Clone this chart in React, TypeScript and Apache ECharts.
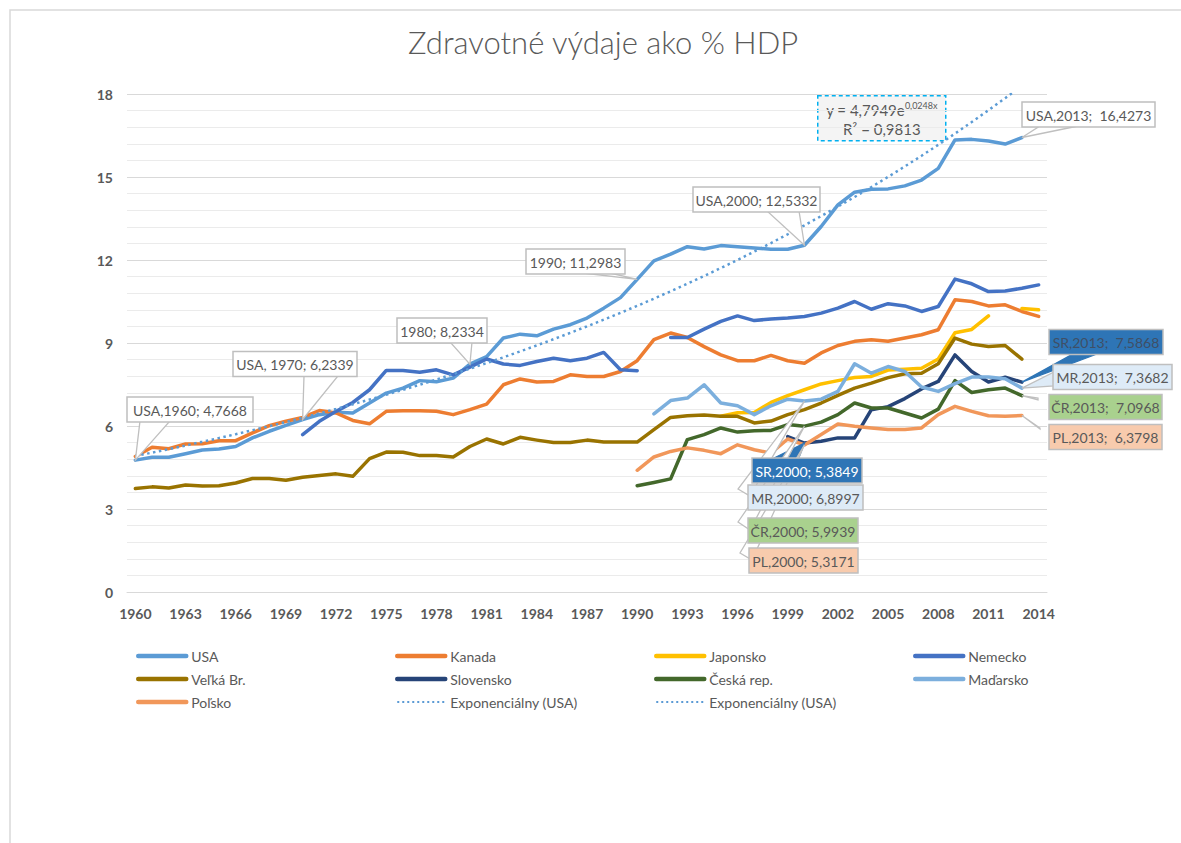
import React, { useEffect, useRef } from "react";
import * as echarts from "echarts";

const FONT = 'Lato, "Open Sans", "Noto Sans", sans-serif';
const GREY = "#595959";

const YEARS: string[] = [];
for (let y = 1960; y <= 2014; y++) YEARS.push(String(y));

const gap = (n: number) => new Array(n).fill(null);

const USA = [
  4.7668, 4.87, 4.87, 5.0, 5.13, 5.17, 5.26, 5.57, 5.81, 6.02,
  6.2339, 6.41, 6.5, 6.47, 6.83, 7.19, 7.37, 7.64, 7.6, 7.73,
  8.2334, 8.51, 9.18, 9.32, 9.26, 9.5, 9.66, 9.9, 10.26, 10.64,
  11.2983, 11.97, 12.21, 12.48, 12.4, 12.52, 12.48, 12.43, 12.39, 12.39,
  12.5332, 13.21, 13.99, 14.45, 14.56, 14.57, 14.68, 14.89, 15.31, 16.34,
  16.36, 16.3, 16.19, 16.4273, null,
];
const KANADA = [
  4.9, 5.23, 5.18, 5.35, 5.36, 5.47, 5.47, 5.75, 6.01, 6.17,
  6.31, 6.56, 6.47, 6.2, 6.08, 6.53, 6.55, 6.55, 6.53, 6.41,
  6.59, 6.79, 7.49, 7.7, 7.59, 7.61, 7.85, 7.79, 7.79, 7.97,
  8.36, 9.12, 9.36, 9.2, 8.87, 8.57, 8.36, 8.36, 8.55, 8.36,
  8.27, 8.64, 8.91, 9.06, 9.12, 9.06, 9.18, 9.3, 9.48, 10.56,
  10.5, 10.34, 10.38, 10.14, 9.96,
];
const JAPONSKO = [
  ...gap(35),
  6.35, 6.48, 6.49, 6.85, 7.1,
  7.31, 7.52, 7.64, 7.75, 7.79, 8.02, 8.05, 8.09, 8.42, 9.37,
  9.49, 9.98, null, 10.25, 10.2,
];
const NEMECKO = [
  ...gap(10),
  5.69, 6.17, 6.53, 6.85, 7.31, 8.01, 8.01, 7.94, 8.03, 7.85,
  8.13, 8.42, 8.24, 8.19, 8.33, 8.45, 8.36, 8.45, 8.66, 8.03,
  8.0, null, 9.2, 9.2, 9.5, 9.78, 9.98, 9.81, 9.87, 9.9,
  9.96, 10.08, 10.26, 10.5, 10.22, 10.42, 10.34, 10.14, 10.32, 11.31,
  11.14, 10.86, 10.88, 10.98, 11.1,
];
const VELKA_BR = [
  3.74, 3.8, 3.76, 3.87, 3.83, 3.84, 3.94, 4.1, 4.1, 4.04,
  4.15, 4.21, 4.27, 4.18, 4.82, 5.06, 5.05, 4.93, 4.93, 4.88,
  5.26, 5.53, 5.35, 5.59, 5.49, 5.4, 5.4, 5.49, 5.42, 5.42,
  5.42, 5.87, 6.31, 6.37, 6.4, 6.35, 6.35, 6.11, 6.18, 6.41,
  6.59, 6.83, 7.11, 7.37, 7.55, 7.75, 7.89, 7.91, 8.25, 9.18,
  8.96, 8.87, 8.91, 8.42, null,
];
const SLOVENSKO = [
  ...gap(39),
  5.62,
  5.3849, 5.45, 5.57, 5.57, 6.59, 6.7, 6.99, 7.34, 7.61, 8.57,
  7.97, 7.59, 7.76, 7.5868, null,
];
const CESKA = [
  ...gap(30),
  3.84, 3.96, 4.09, 5.51, 5.69, 5.93, 5.78, 5.83, 5.84, 6.05,
  5.9939, 6.14, 6.41, 6.83, 6.65, 6.65, 6.47, 6.29, 6.61, 7.64,
  7.21, 7.31, 7.37, 7.0968, null,
];
const MADARSKO = [
  ...gap(31),
  6.44, 6.92, 7.01, 7.49, 6.83, 6.73, 6.41, 6.73, 6.97,
  6.8997, 6.97, 7.25, 8.25, 7.91, 8.15, 7.97, 7.41, 7.25, 7.53,
  7.77, 7.77, 7.71, 7.3682, null,
];
const POLSKO = [
  ...gap(30),
  4.4, 4.88, 5.08, 5.21, 5.12, 5.0, 5.32, 5.14, 5.02, 5.53,
  5.3171, 5.69, 6.07, 5.99, 5.93, 5.87, 5.87, 5.93, 6.41, 6.71,
  6.53, 6.37, 6.35, 6.3798, null,
];

// Exponential trendline of USA as stated on the chart: y = 4,7949 e^(0,0248x), x = 1..n
const TREND_A = 4.7949;
const TREND_B = 0.0248;
const TREND_R2 = "0,9813";
const TREND = YEARS.map((_, i) => TREND_A * Math.exp(TREND_B * (i + 1)));

const SERIES = [
  { name: "USA", data: USA, color: "#5B9BD5" },
  { name: "Kanada", data: KANADA, color: "#ED7D31" },
  { name: "Japonsko", data: JAPONSKO, color: "#FFC000" },
  { name: "Nemecko", data: NEMECKO, color: "#4472C4" },
  { name: "Veľká Br.", data: VELKA_BR, color: "#997300" },
  { name: "Slovensko", data: SLOVENSKO, color: "#264478" },
  { name: "Česká rep.", data: CESKA, color: "#43682B" },
  { name: "Maďarsko", data: MADARSKO, color: "#7CAFDD" },
  { name: "Poľsko", data: POLSKO, color: "#F1975A" },
];
const TREND_NAME = "Exponenciálny (USA)";

const LEGEND_COLUMNS = [
  ["USA", "Veľká Br.", "Poľsko"],
  ["Kanada", "Slovensko", TREND_NAME],
  ["Japonsko", "Česká rep.", TREND_NAME],
  ["Nemecko", "Maďarsko"],
];
const LEGEND_LEFT = [136, 395, 654, 913];

const G = "#bfbfbf";
const B = "#2E75B6";
// Callout boxes (centre cx,cy and size w,h) and the base of their pointer wedge (b1, b2)
const CALLOUTS = [
  { s: "USA", year: "1960", text: "USA,1960; 4,7668", cx: 190, cy: 409.5, w: 126, b1: [140, 421], b2: [170, 421], fill: "#ffffff", color: GREY, line: G },
  { s: "USA", year: "1970", text: "USA, 1970; 6,2339", cx: 295, cy: 364, w: 124, b1: [304, 376], b2: [338, 376], fill: "#ffffff", color: GREY, line: G },
  { s: "USA", year: "1980", text: "1980; 8,2334", cx: 442, cy: 330.5, w: 90, b1: [450, 342], b2: [472, 342], fill: "#ffffff", color: GREY, line: G },
  { s: "USA", year: "1990", text: "1990; 11,2983", cx: 575.5, cy: 261.5, w: 99, b1: [583, 273], b2: [610, 273], fill: "#ffffff", color: GREY, line: G },
  { s: "USA", year: "2000", text: "USA,2000; 12,5332", cx: 756.5, cy: 199.5, w: 127, b1: [767, 211], b2: [799, 211], fill: "#ffffff", color: GREY, line: G },
  { s: "USA", year: "2013", text: "USA,2013;  16,4273", cx: 1088.5, cy: 114.5, w: 133, b1: [1040, 126], b2: [1078, 126], fill: "#ffffff", color: GREY, line: G },
  { s: "Slovensko", year: "2013", text: "SR,2013;  7,5868", cx: 1106, cy: 342, w: 114, b1: [1073, 354], b2: [1097, 354], fill: B, color: "#3f4f66", line: B },
  { s: "Maďarsko", year: "2013", text: "MR,2013;  7,3682", cx: 1112.5, cy: 377, w: 119, b1: [1054, 372], b2: [1054, 386], fill: "#DEEBF7", color: GREY, line: G },
  { s: "Česká rep.", year: "2013", text: "ČR,2013;  7,0968", cx: 1105.5, cy: 407, w: 113, b1: [1038, 398], b2: [1038, 400], fill: "#ffffff", color: GREY, line: G, boxFill: "#A9D18E" },
  { s: "Poľsko", year: "2013", text: "PL,2013;  6,3798", cx: 1105.5, cy: 437, w: 113, b1: [1040, 428], b2: [1040, 429], fill: "#ffffff", color: GREY, line: G, boxFill: "#F8CBAD" },
  { s: "Slovensko", year: "2000", text: "SR,2000; 5,3849", cx: 807, cy: 470.5, w: 110, b1: [770, 460], b2: [798, 460], fill: B, color: "#ffffff", line: B },
  { s: "Maďarsko", year: "2000", text: "MR,2000; 6,8997", cx: 805.5, cy: 497.5, w: 115, b1: [738, 489], b2: [750, 496], fill: "#ffffff", color: GREY, line: G, boxFill: "#DEEBF7" },
  { s: "Česká rep.", year: "2000", text: "ČR,2000; 5,9939", cx: 803, cy: 530.5, w: 110, b1: [738, 522], b2: [750, 530], fill: "#ffffff", color: GREY, line: G, boxFill: "#A9D18E" },
  { s: "Poľsko", year: "2000", text: "PL,2000; 5,3171", cx: 803.5, cy: 560.5, w: 109, b1: [740, 553], b2: [752, 560], fill: "#ffffff", color: GREY, line: G, boxFill: "#F8CBAD" },
];
const BOX_H = 25;

function buildOption() {
  const lineSeries: any[] = SERIES.map((s) => ({
    name: s.name,
    type: "line",
    data: s.data,
    symbol: "none",
    showSymbol: false,
    connectNulls: false,
    color: s.color,
    lineStyle: { width: 3.5, color: s.color, cap: "round", join: "round" },
    emphasis: { disabled: true },
    z: 3,
  }));

  lineSeries.splice(1, 0, {
    name: TREND_NAME,
    type: "line",
    data: TREND,
    symbol: "none",
    showSymbol: false,
    color: "#5B9BD5",
    lineStyle: { width: 2.5, color: "#5B9BD5", type: [2.5, 3.5], cap: "butt" },
    emphasis: { disabled: true },
    z: 4,
  });

  const byName: Record<string, (number | null)[]> = {};
  SERIES.forEach((s) => (byName[s.name] = s.data));

  const calloutData = CALLOUTS.map((c, i) => {
    const idx = YEARS.indexOf(c.year);
    return [idx, byName[c.s][idx], i];
  });

  const wedgeSeries = {
    name: "callout-pointers",
    type: "custom",
    data: calloutData,
    silent: true,
    z: 9,
    clip: false,
    renderItem: (params: any, api: any) => {
      const c = CALLOUTS[api.value(2)];
      const p = api.coord([api.value(0), api.value(1)]);
      return {
        type: "polygon",
        shape: { points: [c.b1, c.b2, p] },
        style: { fill: c.fill, stroke: c.line, lineWidth: 1.3 },
      };
    },
  };

  const boxSeries = {
    name: "callout-boxes",
    type: "custom",
    data: calloutData,
    silent: true,
    z: 11,
    clip: false,
    renderItem: (params: any, api: any) => {
      const c = CALLOUTS[api.value(2)];
      const fill = (c as any).boxFill || c.fill;
      return {
        type: "group",
        children: [
          {
            type: "rect",
            shape: { x: c.cx - c.w / 2, y: c.cy - BOX_H / 2, width: c.w, height: BOX_H },
            style: { fill, stroke: G, lineWidth: 1.5 },
          },
          {
            type: "text",
            x: c.cx,
            y: c.cy + 0.5,
            style: {
              text: c.text,
              fill: c.color,
              fontSize: 14,
              fontFamily: FONT,
              align: "center",
              verticalAlign: "middle",
            },
          },
        ],
      };
    },
  };

  const legendItem = (name: string) =>
    name === TREND_NAME
      ? { name, lineStyle: { width: 2, type: [2, 3], cap: "butt" } }
      : { name, lineStyle: { width: 4.5, cap: "round" } };

  const legends = LEGEND_COLUMNS.map((col, i) => ({
    orient: "vertical",
    left: LEGEND_LEFT[i],
    top: 649,
    padding: 0,
    itemWidth: 48,
    itemHeight: 14,
    itemGap: 9,
    data: col.map(legendItem),
    selectedMode: false,
    itemStyle: { color: "rgba(0,0,0,0)", borderColor: "rgba(0,0,0,0)", borderWidth: 0, opacity: 0 },
    textStyle: { color: GREY, fontSize: 14, fontFamily: FONT },
  }));

  return {
    animation: false,
    backgroundColor: "#ffffff",
    textStyle: { fontFamily: FONT },
    title: {
      text: "Zdravotné výdaje ako % HDP",
      left: 408,
      top: 26,
      padding: 0,
      textStyle: { color: GREY, fontSize: 31, fontWeight: 300, fontFamily: FONT },
    },
    grid: { left: 127, right: 134, top: 94, bottom: 251, containLabel: false },
    legend: legends,
    xAxis: {
      type: "category",
      data: YEARS,
      boundaryGap: true,
      axisTick: { show: false },
      axisLine: { show: true, lineStyle: { color: "#d9d9d9", width: 1 } },
      axisLabel: { interval: 2, color: GREY, fontSize: 14, fontWeight: "bold", margin: 14, fontFamily: FONT },
      splitLine: { show: false },
    },
    yAxis: {
      type: "value",
      min: 0,
      max: 18,
      interval: 3,
      axisLine: { show: false },
      axisTick: { show: false },
      axisLabel: { color: GREY, fontSize: 14, fontWeight: "bold", margin: 14, fontFamily: FONT },
      splitLine: { lineStyle: { color: "#d9d9d9", width: 1 } },
      minorTick: { show: false, splitNumber: 5 },
      minorSplitLine: { show: true, lineStyle: { color: "#ebebeb", width: 1 } },
    },
    graphic: [
      {
        type: "rect",
        z: -10,
        silent: true,
        shape: { x: 10, y: 10, width: 1300, height: 1000 },
        style: { fill: "none", stroke: "#d9d9d9", lineWidth: 1.5 },
      },
      {
        type: "group",
        left: 817,
        top: 95,
        z: 20,
        children: [
          {
            type: "rect",
            shape: { x: 0, y: 0, width: 128, height: 45 },
            style: { fill: "rgba(215,215,215,0.28)", stroke: "#00B0F0", lineWidth: 1.5, lineDash: [4, 3] },
          },
          {
            type: "text",
            x: 64,
            y: 14,
            style: {
              text: "{a|y = 4,7949e}{b|0,0248x}",
              align: "center",
              verticalAlign: "middle",
              rich: {
                a: { fontSize: 15, fill: GREY, color: GREY, fontFamily: FONT, lineHeight: 18 },
                b: { fontSize: 9, fill: GREY, color: GREY, fontFamily: FONT, verticalAlign: "top", lineHeight: 12, padding: [0, 0, 6, 0] },
              },
            },
          },
          {
            type: "text",
            x: 64,
            y: 33,
            style: {
              text: "R² = " + TREND_R2,
              align: "center",
              verticalAlign: "middle",
              fontSize: 15,
              fill: GREY,
              fontFamily: FONT,
            },
          },
        ],
      },
    ],
    series: [...lineSeries, wedgeSeries, boxSeries],
  };
}

export default function App() {
  const ref = useRef<HTMLDivElement | null>(null);
  useEffect(() => {
    if (!ref.current) return;
    const chart = echarts.init(ref.current, null, { renderer: "svg" });
    chart.setOption(buildOption() as any);
    return () => chart.dispose();
  }, []);
  return (
    <div
      ref={ref}
      style={{ position: "absolute", left: 0, top: 0, width: 1181, height: 843, background: "#fff" }}
    />
  );
}
